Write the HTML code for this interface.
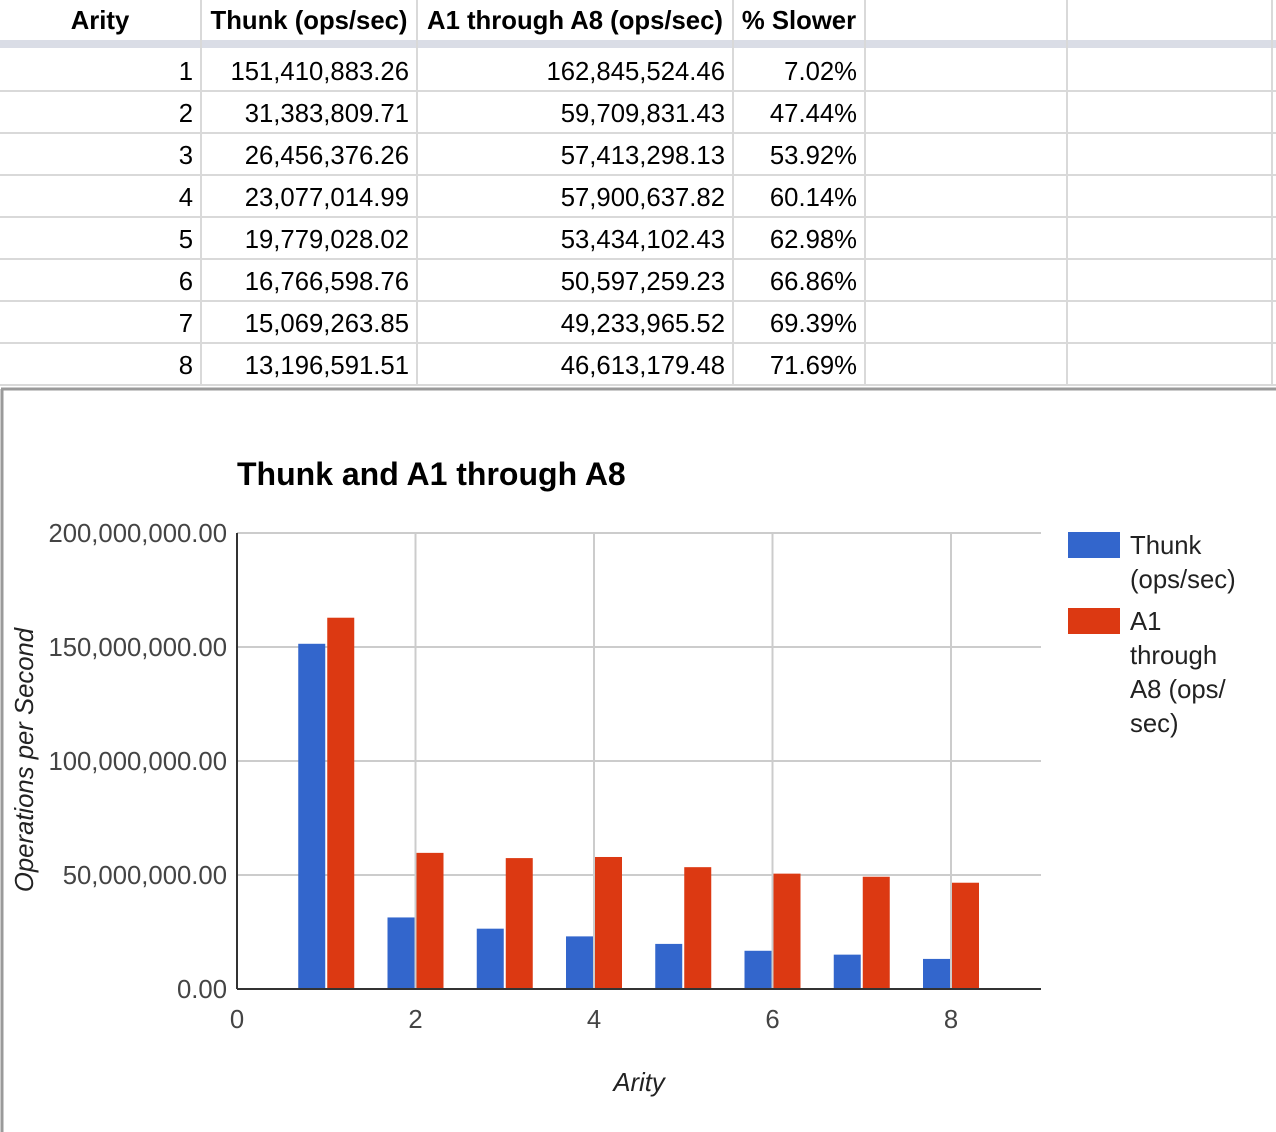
<!DOCTYPE html>
<html><head><meta charset="utf-8"><style>
html,body{margin:0;padding:0;background:#fff;width:1276px;height:1132px;overflow:hidden}
svg{display:block;font-family:"Liberation Sans",Arial,sans-serif}
</style></head><body>
<svg id="root" width="1276" height="1132" xmlns="http://www.w3.org/2000/svg">
<g id="table"></g>
<g id="chart"></g>
</svg>
<script>
const arity=[1,2,3,4,5,6,7,8];
const thunk=[151410883.26,31383809.71,26456376.26,23077014.99,19779028.02,16766598.76,15069263.85,13196591.51];
const a1a8=[162845524.46,59709831.43,57413298.13,57900637.82,53434102.43,50597259.23,49233965.52,46613179.48];
const slower=["7.02%","47.44%","53.92%","60.14%","62.98%","66.86%","69.39%","71.69%"];
const yTicks=[0,50000000,100000000,150000000,200000000];
const xTicks=[0,2,4,6,8];
const NS="http://www.w3.org/2000/svg";
const FS=25.7;
function mk(tag,attrs,parent,text){const e=document.createElementNS(NS,tag);for(const k in attrs)e.setAttribute(k,attrs[k]);if(text!==undefined)e.textContent=text;parent.appendChild(e);return e;}
function fmt(v){return v.toLocaleString('en-US',{minimumFractionDigits:2,maximumFractionDigits:2});}
// table
const T=document.getElementById('table');
const colX=[201,417,733,865,1067,1272];
mk('rect',{x:0,y:40,width:1276,height:8,fill:'#dadde6'},T);
for(let i=1;i<9;i++){mk('line',{x1:0,x2:1276,y1:91+42*(i-1),y2:91+42*(i-1),stroke:'#d9d9d9','stroke-width':2},T);}
colX.forEach(x=>mk('line',{x1:x,x2:x,y1:0,y2:388,stroke:'#d9d9d9','stroke-width':2},T));
const hdr=[["Arity",100],["Thunk (ops/sec)",309],["A1 through A8 (ops/sec)",575],["% Slower",799]];
hdr.forEach(h=>{const t=mk('text',{x:h[1],y:29,'text-anchor':'middle','font-size':FS,'font-weight':'bold',fill:'#000'},T,h[0]);

});
arity.forEach((a,i)=>{const y=80+42*i;
const c=[[a,193],[fmt(thunk[i]),409],[fmt(a1a8[i]),725],[slower[i],857]];
c.forEach(cc=>{const t=mk('text',{x:cc[1],y:y,'text-anchor':'end','font-size':FS,fill:'#000'},T,cc[0]);

});});
// chart
const C=document.getElementById('chart');
mk('rect',{x:0,y:386,width:1276,height:746,fill:'#fff'},C);
mk('line',{x1:1,x2:1276,y1:389,y2:389,stroke:'#9a9a9a','stroke-width':3},C);
mk('line',{x1:2,x2:2,y1:389,y2:1132,stroke:'#9a9a9a','stroke-width':3},C);
const x0=237,x1=1041,y0=989,y1=533,xs=89.25;
const X=v=>x0+v*xs, Y=v=>y0-(v/200000000)*(y0-y1);
yTicks.forEach(v=>{if(v>0){const g=mk('line',{x1:x0,x2:x1,y1:Y(v),y2:Y(v),stroke:'#cccccc','stroke-width':2},C);

}
const t=mk('text',{x:227,y:Y(v)+9,'text-anchor':'end','font-size':FS,fill:'#444'},C,fmt(v));

});
xTicks.forEach(v=>{if(v>0){const g=mk('line',{x1:X(v),x2:X(v),y1:y1,y2:y0,stroke:'#cccccc','stroke-width':2},C);

}
const t=mk('text',{x:X(v),y:1028,'text-anchor':'middle','font-size':FS,fill:'#444'},C,v);

});
const bw=27;
arity.forEach((a,i)=>{
const b=mk('rect',{x:X(a)-bw-1,y:Y(thunk[i]),width:bw,height:y0-Y(thunk[i]),fill:'#3366cc'},C);


const r=mk('rect',{x:X(a)+1,y:Y(a1a8[i]),width:bw,height:y0-Y(a1a8[i]),fill:'#dc3912'},C);

});
mk('line',{x1:x0,x2:x0,y1:y1,y2:y0,stroke:'#333','stroke-width':2},C);
mk('line',{x1:x0,x2:x1,y1:y0,y2:y0,stroke:'#333','stroke-width':2},C);
const ti=mk('text',{x:237,y:485,'font-size':32,'font-weight':'bold',fill:'#000'},C,'Thunk and A1 through A8');


const xt=mk('text',{x:639,y:1091,'text-anchor':'middle','font-size':FS,'font-style':'italic',fill:'#222'},C,'Arity');


const yt=mk('text',{x:0,y:0,transform:'translate(33,760) rotate(-90)','text-anchor':'middle','font-size':FS,'font-style':'italic',fill:'#222'},C,'Operations per Second');


const l1=mk('rect',{x:1068,y:532,width:52,height:26,fill:'#3366cc'},C);


const l2=mk('rect',{x:1068,y:608,width:52,height:26,fill:'#dc3912'},C);


[["Thunk",554],["(ops/sec)",588],["A1",630],["through",664],["A8 (ops/",698],["sec)",732]].forEach(l=>{
const t=mk('text',{x:1130,y:l[1],'font-size':FS,fill:'#222'},C,l[0]);

});
</script>
</body></html>
